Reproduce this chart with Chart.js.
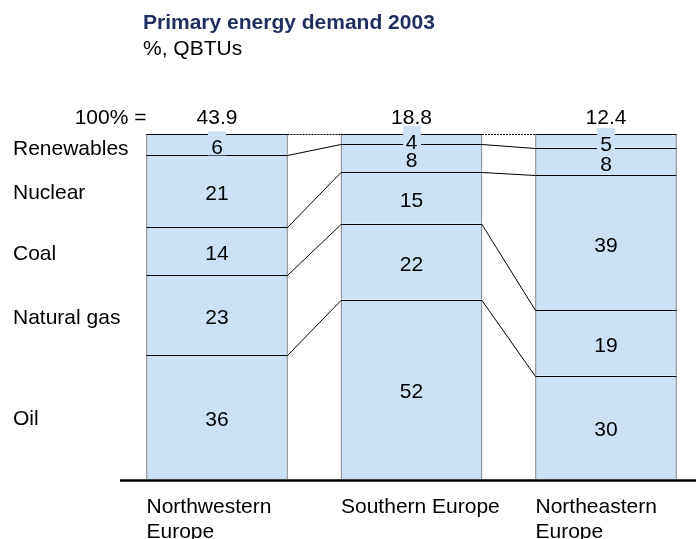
<!DOCTYPE html>
<html>
<head>
<meta charset="utf-8">
<script src="https://cdn.jsdelivr.net/npm/chart.js@4/dist/chart.umd.min.js"></script>
<style>
  html, body { margin: 0; padding: 0; background: #fff; overflow: hidden; }
</style>
</head>
<body>
<canvas id="energyChart" width="696" height="539"></canvas>
<script>
// values, % of each region's demand
const regions = [["Northwestern", "Europe"], ["Southern Europe"], ["Northeastern", "Europe"]]
const totals = ["43.9", "18.8", "12.4"]
const fuels = ["Oil", "Natural gas", "Coal", "Nuclear", "Renewables"]
const oil = [36, 52, 30]
const gas = [23, 22, 19]
const coal = [14, 15, 39]
const nuclear = [21, 8, 8]
const renewables = [6, 4, 5]

const FONT = "'Liberation Sans', Arial, sans-serif"
const BAR_BLUE = "#CCE1F4"
const CAP = 7.5   // half cap height at 21px, for centring text on alphabetic baseline

series = [oil, gas, coal, nuclear, renewables]

datasets = []
for (let k = 0; k < series.length; k++) {
    datasets.push({
        label: fuels[k],
        data: series[k],
        backgroundColor: BAR_BLUE,
        borderColor: "#707070",
        borderWidth: {left: 1, right: 1, top: 0, bottom: 0},
        borderSkipped: false,
        barThickness: 141,
        // rounded labels add up to 101 in two columns: cut the stack at 100%
        clip: {left: false, right: false, top: 0, bottom: false}
    })
}

function px(v) { return Math.round(v) + 0.5 }

const decorPlugin = {
    id: "decor",
    afterDatasetsDraw(chart) {
        const c = chart.ctx
        const area = chart.chartArea
        const metas = chart.data.datasets.map((d, i) => chart.getDatasetMeta(i))
        const last = metas.length - 1
        const topOf = b => Math.max(b.y, area.top)
        c.save()

        // segment boundaries and connectors between columns
        c.strokeStyle = "#000"
        c.lineWidth = 1
        for (let k = 0; k < metas.length; k++) {
            const bars = metas[k].data
            for (let i = 0; i < bars.length; i++) {
                const b = bars[i]
                c.setLineDash([])
                c.beginPath()
                c.moveTo(b.x - b.width / 2, px(topOf(b)))
                c.lineTo(b.x + b.width / 2, px(topOf(b)))
                c.stroke()
                if (i < bars.length - 1) {
                    const n = bars[i + 1]
                    if (k == last) c.setLineDash([2, 1])
                    c.beginPath()
                    c.moveTo(b.x + b.width / 2, px(topOf(b)))
                    c.lineTo(n.x - n.width / 2, px(topOf(n)))
                    c.stroke()
                }
            }
        }
        c.setLineDash([])

        // values inside segments
        c.font = "21px " + FONT
        c.textAlign = "center"
        c.textBaseline = "alphabetic"
        for (let k = 0; k < metas.length; k++) {
            const bars = metas[k].data
            const raw = chart.data.datasets[k].data
            for (let i = 0; i < bars.length; i++) {
                const b = bars[i]
                let y = (topOf(b) + b.base) / 2 + 1.5
                if (k == last) {
                    y += 1
                    c.fillStyle = BAR_BLUE
                    c.fillRect(Math.round(b.x) - 9, y - CAP - 8, 18, 24)
                }
                c.fillStyle = "#000"
                c.fillText(String(raw[i]), b.x, y + CAP)
            }
        }

        // fuel names on the left, next to the first column
        c.textAlign = "left"
        for (let k = 0; k < metas.length; k++) {
            const b = metas[k].data[0]
            let y = (topOf(b) + b.base) / 2 + 1
            if (k == last) y += 2.5
            c.fillText(fuels[k], 13, y + CAP)
        }

        // totals row
        const first = metas[0].data[0]
        c.textAlign = "right"
        c.fillText("100% =", first.x - first.width / 2, area.top - 10.5)
        c.textAlign = "center"
        for (let i = 0; i < totals.length; i++) {
            c.fillText(totals[i], metas[0].data[i].x, area.top - 10.5)
        }

        // region names under the baseline
        c.textAlign = "left"
        for (let i = 0; i < regions.length; i++) {
            const b = metas[0].data[i]
            for (let j = 0; j < regions[i].length; j++) {
                c.fillText(regions[i][j], b.x - b.width / 2, area.bottom + 34 + j * 24.5)
            }
        }

        // baseline
        c.strokeStyle = "#000"
        c.lineWidth = 2.5
        c.beginPath()
        c.moveTo(120, area.bottom + 1.5)
        c.lineTo(chart.width, area.bottom + 1.5)
        c.stroke()

        // title
        c.fillStyle = "#1F2E5F"
        c.font = "bold 21px " + FONT
        c.fillText("Primary energy demand 2003", 143, 29)
        c.fillStyle = "#000"
        c.font = "21px " + FONT
        c.fillText("%, QBTUs", 143, 55)

        c.restore()
    }
}

ctx = document.getElementById("energyChart")
myChart = new Chart(ctx, {
    type: "bar",
    data: {
        labels: regions.map(r => r.join(" ")),
        datasets: datasets
    },
    options: {
        responsive: false,
        animation: false,
        devicePixelRatio: 1,
        layout: {padding: {top: 134, bottom: 60, left: 217, right: 90}},
        scales: {
            x: {type: "category", offset: false, stacked: true, display: false},
            y: {stacked: true, min: 0, max: 100, display: false}
        },
        plugins: {
            legend: {display: false},
            tooltip: {enabled: false}
        }
    },
    plugins: [decorPlugin]
})
</script>
</body>
</html>
